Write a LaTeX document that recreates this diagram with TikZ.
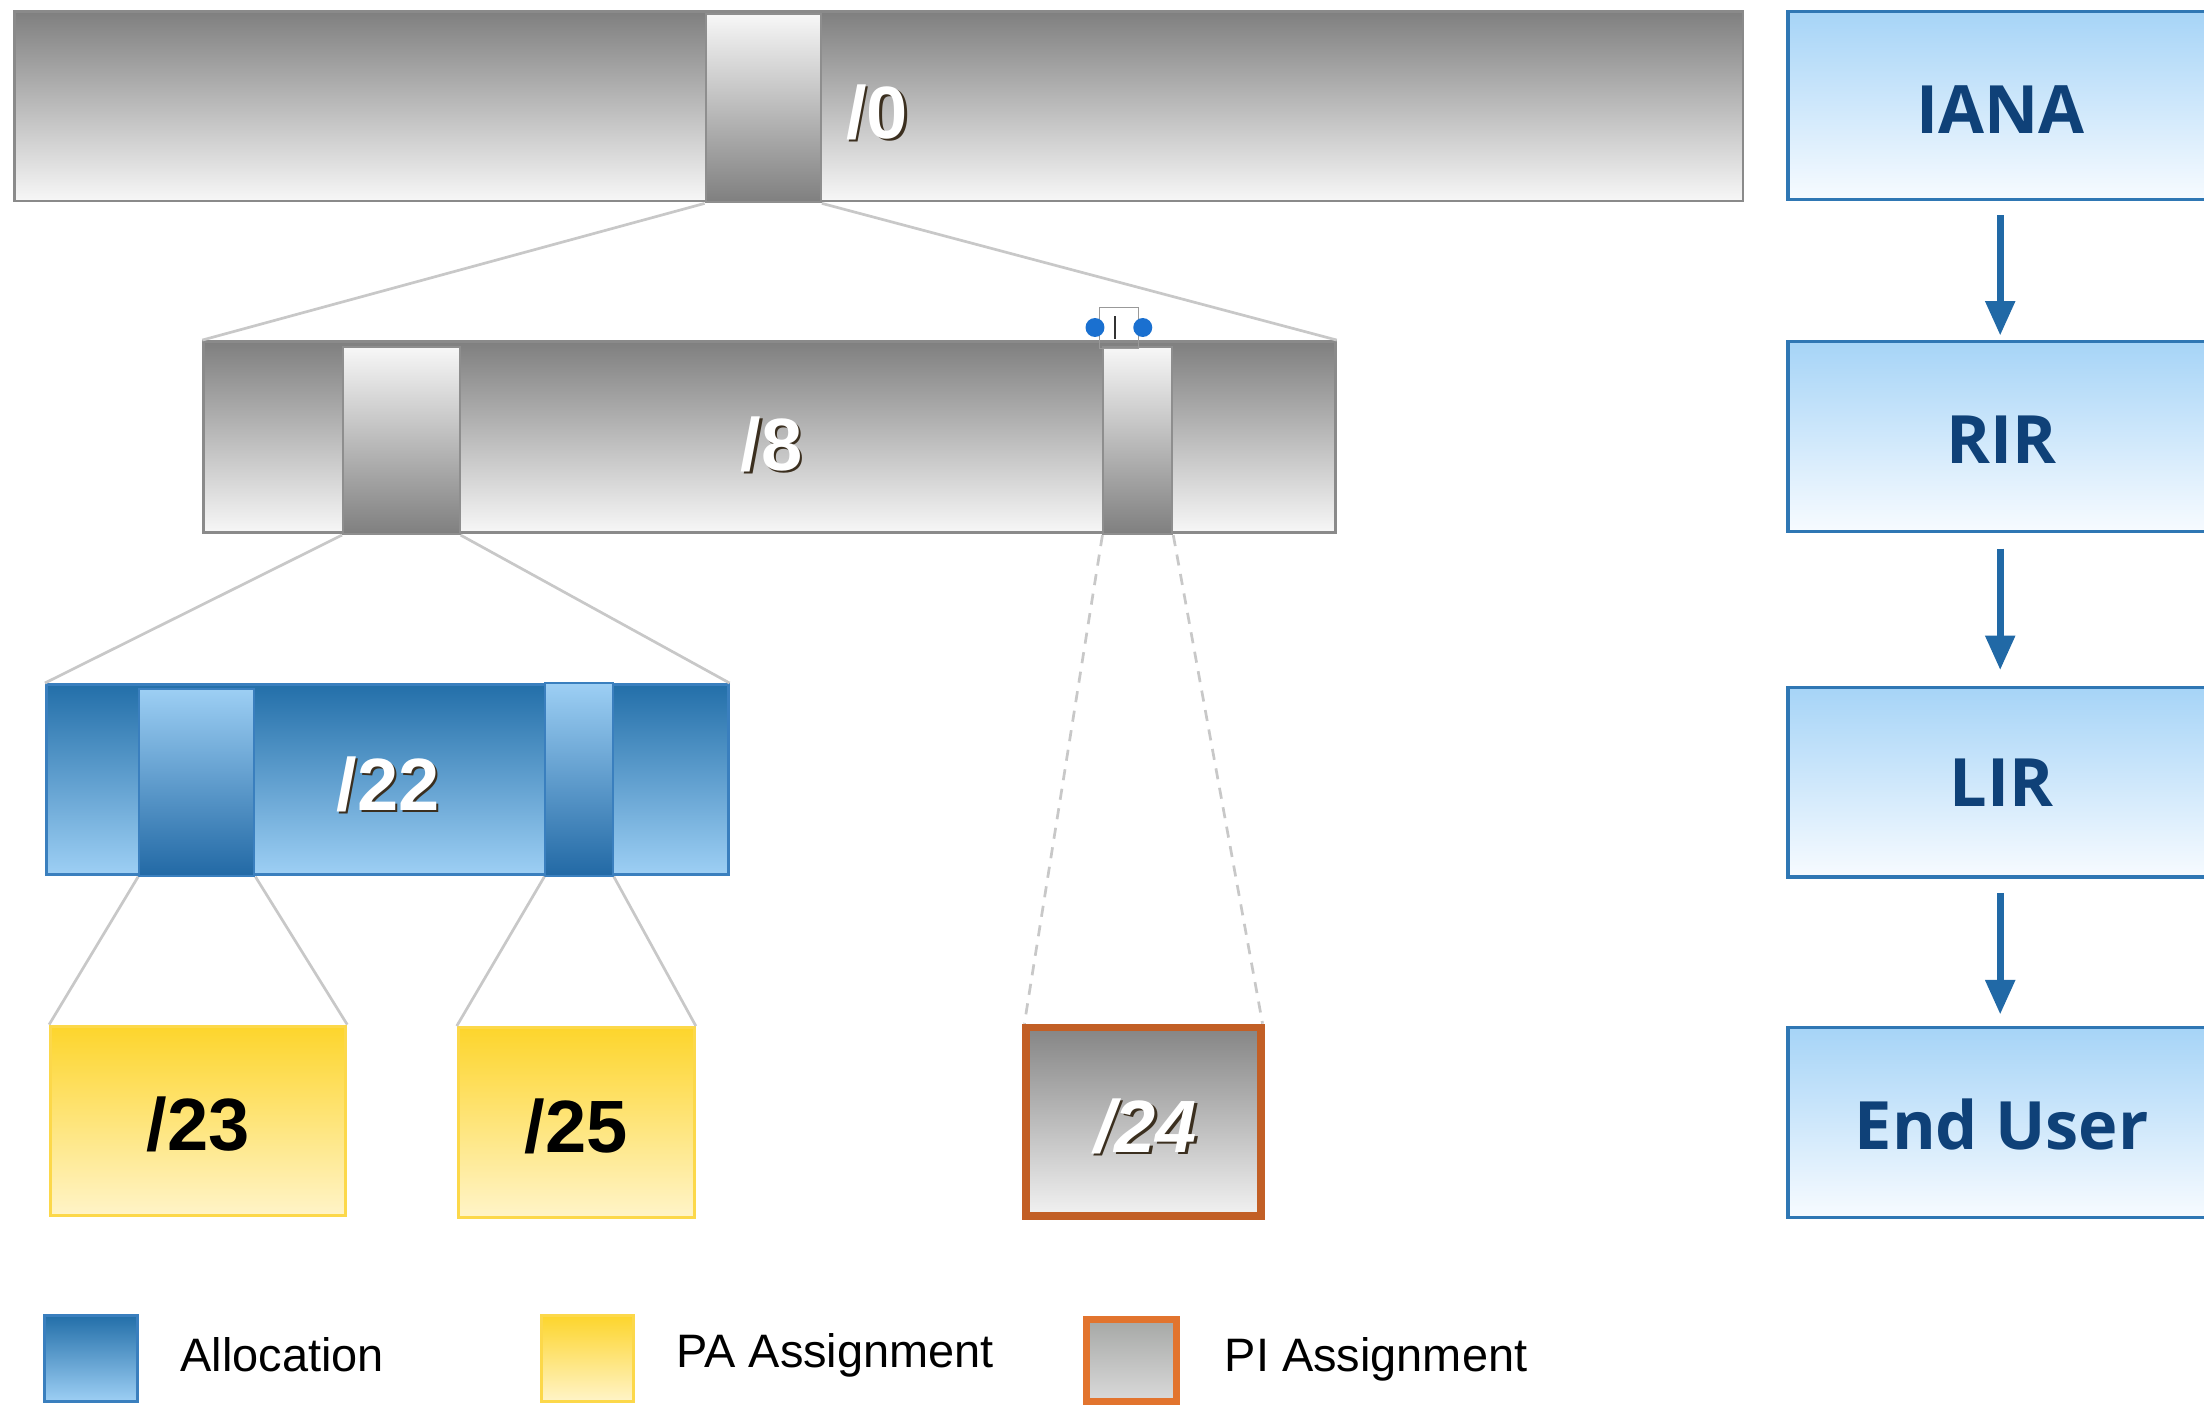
\documentclass[tikz,border=0pt]{standalone}
\usepackage{fontspec}
\setmainfont{Liberation Sans}
\newfontfamily\boxfont{Open Sans}
\usetikzlibrary{fit,arrows.meta}
\definecolor{grayTop}{HTML}{7F7F7F}
\definecolor{grayBot}{HTML}{F7F7F7}
\definecolor{barEdge}{HTML}{8A8A8A}
\definecolor{sliceEdge}{HTML}{8E8E8E}
\definecolor{zoomGray}{HTML}{C8C8C8}
\definecolor{blueDark}{HTML}{236FA9}
\definecolor{blueDarkB}{HTML}{2269A5}
\definecolor{blueLight}{HTML}{9DCFF4}
\definecolor{blueEdge}{HTML}{3A7FBE}
\definecolor{yelTop}{HTML}{FDD52C}
\definecolor{yelBot}{HTML}{FFF4C8}
\definecolor{yelEdge}{HTML}{FCD84A}
\definecolor{piEdge}{HTML}{C25F26}
\definecolor{piTop}{HTML}{858585}
\definecolor{piBot}{HTML}{F2F2F2}
\definecolor{legPiTop}{HTML}{A6A8A6}
\definecolor{legPiBot}{HTML}{DADADA}
\definecolor{legPiEdge}{HTML}{E2742E}
\definecolor{roleTop}{HTML}{A6D4F7}
\definecolor{roleBot}{HTML}{F7FBFF}
\definecolor{roleEdge}{HTML}{2F77B4}
\definecolor{roleText}{HTML}{0F4178}
\definecolor{arrowBlue}{HTML}{2169A6}
\definecolor{shadowCol}{HTML}{3B2F1F}
\definecolor{handleBlue}{HTML}{1A70D0}
\definecolor{handleGray}{HTML}{999999}
\definecolor{handleDark}{HTML}{333333}
\tikzset{
  x=0.02cm, y=0.02cm,
  graybar/.style={draw=barEdge, line width=1.2pt, top color=grayTop, bottom color=grayBot, inner sep=0pt},
  grayslice/.style={draw=sliceEdge, line width=0.8pt, top color=grayBot, bottom color=grayTop, inner sep=0pt},
  bluebar/.style={draw=blueEdge, line width=1.2pt, top color=blueDark, bottom color=blueLight, inner sep=0pt},
  blueslice/.style={draw=blueEdge, line width=0.8pt, top color=blueLight, bottom color=blueDarkB, inner sep=0pt},
  yellowbox/.style={draw=yelEdge, line width=1.2pt, top color=yelTop, bottom color=yelBot, inner sep=0pt},
  pibox/.style={draw=piEdge, line width=3.1pt, top color=piTop, bottom color=piBot, inner sep=0pt},
  legpibox/.style={draw=legPiEdge, line width=2.8pt, top color=legPiTop, bottom color=legPiBot, inner sep=0pt},
  rolebox/.style={draw=roleEdge, line width=1.4pt, top color=roleTop, bottom color=roleBot, inner sep=0pt},
  zoomline/.style={draw=zoomGray, line width=1.1pt},
  zoomdash/.style={zoomline, dash pattern=on 4.5pt off 3.5pt},
  flow/.style={draw=arrowBlue, line width=2.9pt, -{Triangle[width=11.5pt,length=14pt]}},
  pfx/.style={font=\fontsize{30}{36}\selectfont\bfseries, inner sep=0pt},
  pfxw/.style={pfx, text=white},
  pfxshadow/.style={pfx, text=shadowCol},
  pfxblack/.style={pfx, text=black},
  rolelabel/.style={font=\boxfont\fontsize{27}{32}\selectfont\bfseries, text=roleText, inner sep=0pt},
  legendtext/.style={font=\fontsize{19}{23}\selectfont, anchor=west, inner sep=0pt},
  handledot/.style={circle, fill=handleBlue, inner sep=0pt, minimum size=0.27cm},
}
\begin{document}
\begin{tikzpicture}
\useasboundingbox (0,0) rectangle (1568,-999);
\clip (0,0) rectangle (1568,-999);

% /0 level
\node[graybar, fit={(10,-8) (1240,-143)}] (b0) {};
\node[grayslice, fit={(502,-10) (584,-144)}] (s0) {};
\node[pfxshadow] (l0s) at (625.7,-81.7) {/0};
\node[pfxw] (l0) at (624,-80) {/0};

% /8 level
\node[graybar, fit={(145,-243) (950,-379)}] (b8) {};
\node[grayslice, fit={(244,-247) (327,-380)}] (s8a) {};
\node[grayslice, fit={(785,-247) (834,-380)}] (s8b) {};
\node[pfxshadow] (l8s) at (550.7,-317.7) {/8};
\node[pfxw] (l8) at (549,-316) {/8};

% selection handles
\node[draw=handleGray, line width=0.5pt, inner sep=0pt, fit={(782,-219) (810,-248)}] (sel) {};
\draw[handleDark, line width=0.9pt] (793.5,-225) -- (793.5,-241);
\node[handledot] (h1) at (779,-233) {};
\node[handledot] (h2) at (813,-233) {};

% /22 level
\node[bluebar, fit={(33,-487) (518,-622)}] (b22) {};
\node[blueslice, fit={(99,-490) (181,-623)}] (s22a) {};
\node[blueslice, fit={(388,-486) (436,-623)}] (s22b) {};
\node[pfxshadow] (l22s) at (277.7,-559.7) {/22};
\node[pfxw] (l22) at (276,-558) {/22};

% bottom level
\node[yellowbox, fit={(36,-730) (246,-865)}] (p23) {};
\node[pfxblack] (l23) at (141,-800) {/23};
\node[yellowbox, fit={(326,-731) (494,-866)}] (p25) {};
\node[pfxblack] (l25) at (410,-801) {/25};
\node[pibox, fit={(730,-731) (897,-865)}] (p24) {};
\node[pfxshadow, font=\fontsize{30}{36}\selectfont\bfseries\itshape] (l24s) at (816.7,-802.7) {/24};
\node[pfxw, font=\fontsize{30}{36}\selectfont\bfseries\itshape] (l24) at (815,-801) {/24};

% zoom connectors
\draw[zoomline] (s0.south west) -- (b8.north west);
\draw[zoomline] (s0.south east) -- (b8.north east);
\draw[zoomline] (s8a.south west) -- (b22.north west);
\draw[zoomline] (s8a.south east) -- (b22.north east);
\draw[zoomline] (s22a.south west) -- (p23.north west);
\draw[zoomline] (s22a.south east) -- (p23.north east);
\draw[zoomline] (s22b.south west) -- (p25.north west);
\draw[zoomline] (s22b.south east) -- (p25.north east);
\draw[zoomdash] (s8b.south west) -- ([xshift=0.03cm]p24.north west);
\draw[zoomdash] (s8b.south east) -- ([xshift=-0.03cm]p24.north east);

% role column
\node[rolebox, fit={(1272,-8) (1574,-142)}] (iana) {};
\node[rolebox, fit={(1272,-243) (1574,-378)}] (rir) {};
\node[rolebox, fit={(1272,-489) (1574,-624)}] (lir) {};
\node[rolebox, fit={(1272,-731) (1574,-866)}] (eu) {};
\node[rolelabel] (tiana) at (1423,-78) {IANA};
\node[rolelabel] (trir) at (1424,-313) {RIR};
\node[rolelabel] (tlir) at (1424,-557) {LIR};
\node[rolelabel] (teu) at (1424,-800) {End User};
\draw[flow] ([yshift=-0.2cm]iana.south) -- ([yshift=0.06cm]rir.north);
\draw[flow] ([yshift=-0.22cm]rir.south) -- ([yshift=0.22cm]lir.north);
\draw[flow] ([yshift=-0.2cm]lir.south) -- ([yshift=0.16cm]eu.north);

% legend
\node[bluebar, fit={(32,-936) (98,-997)}] (kalloc) {};
\node[legendtext] (talloc) at (128,-964) {Allocation};
\node[yellowbox, fit={(385,-936) (451,-997)}] (kpa) {};
\node[legendtext] (tpa) at (481,-964) {PA Assignment};
\node[legpibox, fit={(773,-939) (837,-997)}] (kpi) {};
\node[legendtext] (tpi) at (871,-967) {PI Assignment};
\end{tikzpicture}
\end{document}
